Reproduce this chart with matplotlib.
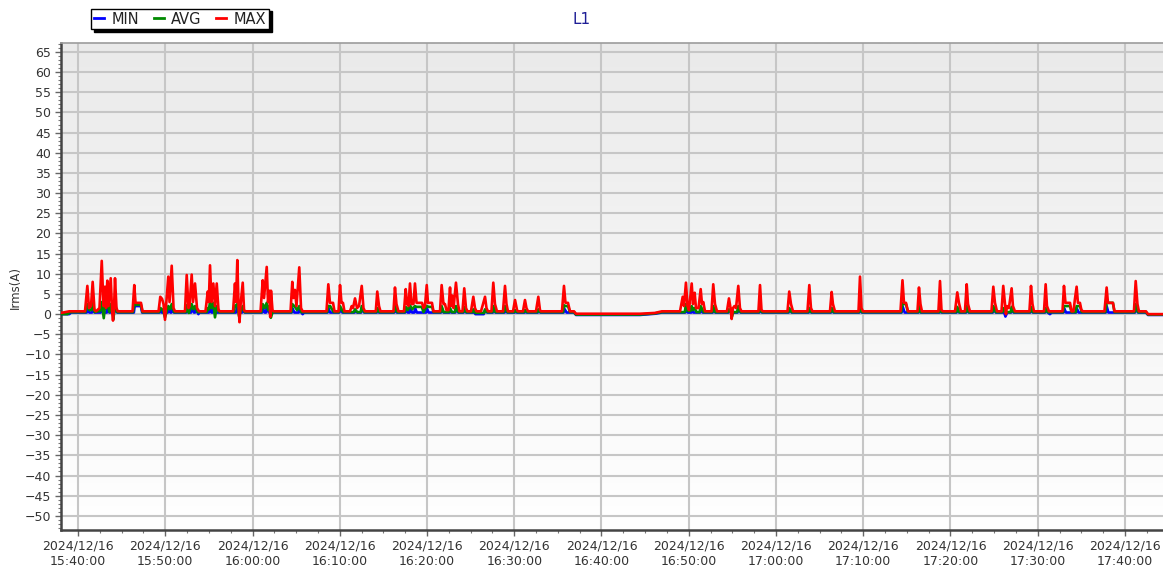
import matplotlib
matplotlib.use("Agg")
import matplotlib.pyplot as plt
import matplotlib.dates as mdates
from matplotlib.colors import LinearSegmentedColormap
from matplotlib.lines import Line2D
from matplotlib.ticker import MultipleLocator, AutoMinorLocator
import numpy as np
import pandas as pd

# readings of phase L1, time given as minutes after 15:40:00
start = pd.Timestamp("2024-12-16 15:40:00")

max_points = [
    (-1.95, 0.3), (-1.0, 0.7),
    (0.80, 0.7), (1.07, 7.0), (1.26, 1.5), (1.49, 2.0), (1.68, 8.0), (1.89, 1.0), (2.06, 0.7),
    (2.46, 1.5), (2.72, 13.2), (2.92, 2.0), (3.09, 6.8), (3.21, 1.5), (3.36, 8.3), (3.50, 2.0),
    (3.75, 8.9), (3.90, 1.0), (4.01, -1.6), (4.13, 1.5), (4.24, 8.9), (4.41, 1.5), (4.55, 0.7),
    (6.25, 0.7), (6.45, 7.2), (6.59, 2.8), (7.22, 2.8), (7.39, 0.7),
    (9.23, 0.7), (9.43, 4.3), (9.63, 3.8), (9.80, 2.5), (9.97, -1.4), (10.09, 2.0), (10.35, 9.3),
    (10.49, 3.0), (10.74, 12.0), (10.95, 1.5), (11.12, 0.7),
    (12.26, 0.7), (12.46, 9.7), (12.66, 1.5), (12.78, 2.0), (13.03, 9.8), (13.18, 3.0), (13.41, 7.6),
    (13.64, 1.5), (13.87, 0.7),
    (14.61, 0.7), (14.87, 5.6), (14.99, 3.0), (15.13, 12.1), (15.30, 3.0), (15.51, 7.6), (15.70, 2.0),
    (15.90, 7.6), (16.10, 1.0), (16.28, 0.7),
    (17.77, 0.7), (17.99, 7.6), (18.11, 3.0), (18.26, 13.4), (18.40, 2.0), (18.51, -2.0), (18.62, 2.0),
    (18.88, 7.8), (19.03, 1.0), (19.14, 0.7),
    (20.92, 0.7), (21.17, 8.4), (21.32, 4.0), (21.63, 11.7), (21.78, 3.0), (21.93, 5.8), (22.03, -0.7),
    (22.12, 5.8), (22.29, 1.0), (22.41, 0.7),
    (24.36, 0.7), (24.56, 8.0), (24.70, 4.0), (24.87, 6.0), (25.04, 2.0), (25.36, 11.6), (25.56, 1.5),
    (25.75, 0.7),
    (28.48, 0.7), (28.69, 7.4), (28.88, 2.8), (29.23, 2.8), (29.40, 0.7),
    (29.86, 0.7), (30.03, 7.2), (30.20, 2.8), (30.37, 2.8), (30.54, 0.7),
    (31.17, 0.7), (31.37, 2.0), (31.52, 1.5), (31.75, 3.9), (31.98, 1.5), (32.21, 2.0), (32.52, 7.0),
    (32.72, 1.5), (32.89, 0.7),
    (34.13, 0.7), (34.30, 5.6), (34.50, 2.0), (34.67, 0.7),
    (36.16, 0.7), (36.33, 6.6), (36.50, 2.5), (36.73, 0.7),
    (37.36, 0.7), (37.56, 6.2), (37.71, 2.5), (37.88, 2.0), (38.05, 7.6), (38.22, 2.5), (38.45, 2.5),
    (38.62, 7.6), (38.80, 2.8), (39.43, 2.8), (39.60, 1.5), (39.77, 2.0), (39.97, 7.2), (40.11, 2.8),
    (40.57, 2.8), (40.74, 0.7),
    (41.49, 0.7), (41.68, 7.2), (41.89, 2.5), (42.06, 2.5), (42.23, 1.0), (42.46, 1.0), (42.64, 6.6),
    (42.75, 2.0), (42.90, 4.6), (43.04, 1.5), (43.32, 7.8), (43.55, 2.5), (43.72, 0.7),
    (44.07, 0.7), (44.27, 6.4), (44.47, 1.5), (44.64, 0.7),
    (45.04, 0.7), (45.31, 4.3), (45.50, 1.5), (45.67, 0.7),
    (46.19, 0.7), (46.42, 2.5), (46.65, 4.3), (46.82, 1.5), (46.99, 0.7),
    (47.39, 0.7), (47.60, 7.8), (47.79, 2.5), (48.02, 0.7),
    (48.71, 0.7), (48.94, 7.0), (49.11, 2.5), (49.28, 0.7),
    (49.86, 0.7), (50.09, 3.5), (50.32, 1.0), (50.43, 0.7),
    (51.00, 0.7), (51.23, 3.5), (51.40, 1.5), (51.58, 0.7),
    (52.49, 0.7), (52.76, 4.3), (52.95, 1.0), (53.07, 0.7),
    (55.47, 0.7), (55.70, 7.0), (55.87, 2.8), (56.16, 2.8), (56.39, 0.7),
    (56.85, 0.7), (57.08, 0.1), (64.41, 0.1), (66.13, 0.3), (66.93, 0.7),
    (69.00, 0.7), (69.31, 4.3), (69.46, 2.0), (69.68, 7.8), (69.86, 2.0), (70.03, 1.0), (70.34, 7.6),
    (70.49, 2.5), (70.68, 5.3), (70.83, 1.5), (71.12, 1.5), (71.37, 6.2), (71.52, 2.5), (71.67, 3.0),
    (71.86, 0.7),
    (72.61, 0.7), (72.81, 7.4), (73.01, 2.5), (73.24, 0.7),
    (74.38, 0.7), (74.61, 3.9), (74.79, 1.5), (74.92, -1.2), (75.07, 1.5), (75.24, 2.0), (75.42, 1.5),
    (75.68, 7.0), (75.87, 1.5), (76.05, 0.7),
    (77.99, 0.7), (78.17, 7.2), (78.34, 1.0), (78.51, 0.7),
    (81.32, 0.7), (81.52, 5.6), (81.72, 2.5), (81.95, 0.7),
    (83.61, 0.7), (83.82, 7.2), (84.01, 1.5), (84.18, 0.7),
    (86.19, 0.7), (86.38, 5.5), (86.53, 2.5), (86.76, 0.7),
    (89.46, 0.7), (89.63, 9.3), (89.80, 1.5), (89.97, 0.7),
    (94.27, 0.7), (94.50, 8.4), (94.67, 2.8), (94.90, 2.8), (95.13, 0.7),
    (96.22, 0.7), (96.39, 6.6), (96.56, 2.5), (96.73, 0.7),
    (98.62, 0.7), (98.80, 8.2), (98.97, 1.0), (99.14, 0.7),
    (100.52, 0.7), (100.78, 5.4), (100.97, 2.8), (101.20, 0.7),
    (101.66, 0.7), (101.86, 7.4), (102.01, 2.5), (102.23, 0.7),
    (104.70, 0.7), (104.91, 6.8), (105.10, 2.8), (105.33, 0.7),
    (105.85, 0.7), (106.05, 7.0), (106.25, 2.5), (106.36, 0.0), (106.48, 2.0), (106.70, 1.5),
    (107.01, 6.4), (107.16, 2.0), (107.39, 0.7),
    (109.05, 0.7), (109.23, 7.0), (109.40, 2.5), (109.57, 0.7),
    (110.72, 0.7), (110.91, 7.4), (111.06, 2.0), (111.29, 0.7),
    (112.84, 0.7), (113.01, 7.0), (113.18, 2.8), (113.70, 2.8), (113.87, 0.7),
    (114.10, 0.7), (114.27, 3.8), (114.46, 6.8), (114.61, 2.8), (114.84, 2.8), (115.01, 1.0),
    (115.19, 0.7),
    (117.65, 0.7), (117.90, 6.6), (118.05, 2.8), (118.62, 2.8), (118.80, 0.7),
    (121.03, 0.7), (121.23, 8.2), (121.43, 2.5), (121.60, 0.7),
    (122.41, 0.7), (122.64, 0.0), (124.60, 0.0),
]

avg_points = [
    (-1.95, 0.0), (-1.2, 0.0), (-0.9, 0.5),
    (0.85, 0.5), (1.07, 2.5), (1.3, 1.0), (1.55, 1.0), (1.68, 2.8), (1.9, 0.5), (2.5, 0.8), (2.72, 3.0),
    (2.95, -1.0), (3.1, 2.0), (3.36, 2.8), (3.6, 0.5), (3.75, 2.5), (3.95, 1.0), (4.05, -1.3),
    (4.24, 2.5), (4.5, 0.5),
    (6.3, 0.5), (6.45, 2.5), (6.6, 2.3), (7.22, 2.3), (7.39, 0.5),
    (9.3, 0.5), (9.45, 1.5), (9.75, 1.0), (9.97, -0.8), (10.2, 1.0), (10.35, 2.0), (10.55, 1.2),
    (10.74, 2.5), (11.0, 0.5),
    (12.35, 0.5), (12.46, 2.2), (12.7, 0.3), (13.03, 2.5), (13.2, 1.2), (13.41, 2.0), (13.7, 0.5),
    (14.75, 0.5), (14.87, 1.5), (15.0, 1.2), (15.13, 3.0), (15.3, 1.5), (15.51, 2.8), (15.7, -0.8),
    (15.9, 2.0), (16.2, 0.5),
    (17.85, 0.5), (17.99, 2.0), (18.26, 2.5), (18.45, -0.5), (18.7, 1.0), (18.88, 2.0), (19.1, 0.5),
    (21.0, 0.5), (21.17, 2.5), (21.4, 1.5), (21.63, 2.8), (21.8, 1.0), (21.93, 2.0), (22.1, -0.9),
    (22.3, 0.5),
    (24.45, 0.5), (24.56, 2.5), (24.87, 1.8), (25.1, 1.0), (25.36, 2.0), (25.6, 0.5),
    (28.55, 0.5), (28.69, 2.0), (28.9, 2.0), (29.3, 0.5), (29.9, 0.5), (30.03, 2.0), (30.4, 0.5),
    (31.6, 0.5), (31.75, 1.2), (32.0, 0.5), (32.4, 0.5), (32.52, 2.0), (32.8, 0.5),
    (34.2, 0.5), (34.3, 1.5), (34.55, 0.5), (36.2, 0.5), (36.33, 2.0), (36.6, 0.5),
    (37.45, 0.5), (37.56, 1.8), (37.8, 1.0), (38.05, 2.2), (38.3, 1.2), (38.62, 2.0), (38.8, 1.8),
    (39.4, 1.8), (39.6, 0.5), (39.97, 2.0), (40.2, 1.8), (40.6, 1.8), (40.74, 0.5),
    (41.55, 0.5), (41.68, 2.0), (41.9, 0.5), (42.5, 0.5), (42.64, 1.5), (42.85, 0.5), (43.2, 0.5),
    (43.32, 2.0), (43.6, 0.5),
    (44.15, 0.5), (44.27, 1.8), (44.5, 0.5), (45.2, 0.5), (45.31, 1.2), (45.55, 0.3), (46.55, 0.3),
    (46.65, 1.2), (46.9, 0.5),
    (47.5, 0.5), (47.6, 2.0), (47.85, 0.5), (48.8, 0.5), (48.94, 2.0), (49.2, 0.5), (50.0, 0.5),
    (50.09, 1.0), (50.35, 0.5), (51.1, 0.5), (51.23, 1.0), (51.45, 0.5), (52.65, 0.5), (52.76, 1.2),
    (53.0, 0.5),
    (55.6, 0.5), (55.7, 2.2), (55.87, 2.0), (56.16, 2.0), (56.39, 0.5), (56.85, 0.5), (57.08, -0.1),
    (64.41, -0.1), (66.13, 0.2), (66.93, 0.5),
    (69.55, 0.5), (69.68, 2.5), (69.9, 0.8), (70.2, 0.8), (70.34, 2.0), (70.5, 1.0), (70.68, 1.5),
    (70.9, 0.5), (71.25, 0.5), (71.37, 2.0), (71.7, 0.5),
    (72.7, 0.5), (72.81, 2.0), (73.05, 0.5), (74.5, 0.5), (74.61, 1.2), (74.85, 0.5), (74.95, -0.6),
    (75.1, 0.5), (75.55, 0.5), (75.68, 2.0), (75.95, 0.5),
    (78.05, 0.5), (78.17, 1.5), (78.4, 0.5), (81.4, 0.5), (81.52, 1.5), (81.8, 0.5), (83.7, 0.5),
    (83.82, 1.5), (84.05, 0.5), (86.25, 0.5), (86.38, 1.5), (86.6, 0.5), (89.5, 0.5), (89.63, 1.8),
    (89.85, 0.5),
    (94.35, 0.5), (94.5, 2.8), (94.67, 2.5), (94.9, 2.5), (95.13, 0.5), (96.3, 0.5), (96.39, 2.0),
    (96.6, 0.5), (98.7, 0.5), (98.8, 1.5), (99.0, 0.5),
    (100.65, 0.5), (100.78, 1.8), (101.0, 0.5), (101.75, 0.5), (101.86, 2.0), (102.1, 0.5),
    (104.8, 0.5), (104.91, 2.0), (105.2, 0.5), (105.95, 0.5), (106.05, 1.5), (106.3, 0.5),
    (106.9, 0.5), (107.01, 1.8), (107.25, 0.5),
    (109.1, 0.5), (109.23, 1.8), (109.45, 0.5), (110.8, 0.5), (110.91, 1.5), (111.15, 0.5),
    (112.9, 0.5), (113.01, 2.0), (113.18, 2.0), (113.7, 2.0), (113.87, 0.5), (114.35, 0.5),
    (114.46, 2.0), (114.61, 2.0), (114.84, 2.0), (115.05, 0.5),
    (117.75, 0.5), (117.9, 2.8), (118.05, 2.8), (118.62, 2.8), (118.8, 0.5), (121.1, 0.5),
    (121.23, 2.5), (121.5, 0.5), (122.41, 0.5), (122.64, -0.1), (124.6, -0.1),
]

min_points = [
    (-1.95, 0.0), (-1.0, 0.0), (-0.8, 0.4),
    (1.0, 0.4), (1.07, 1.2), (1.3, 0.4), (1.6, 0.4), (1.68, 1.5), (1.9, 0.4), (2.6, 0.4), (2.72, 1.8),
    (2.9, 0.4), (3.3, 0.4), (3.36, 1.5), (3.6, 0.4), (3.7, 0.4), (3.75, 1.5), (3.95, 0.4), (4.15, 0.4),
    (4.24, 1.5), (4.5, 0.4),
    (6.4, 0.4), (6.5, 2.0), (7.2, 2.0), (7.35, 0.4),
    (9.35, 0.4), (9.43, 1.2), (9.6, 0.4), (10.3, 0.4), (10.35, 1.5), (10.6, 0.4), (10.7, 0.4),
    (10.74, 1.8), (11.0, 0.4),
    (12.4, 0.4), (12.46, 1.5), (12.65, 0.4), (12.95, 0.4), (13.03, 1.5), (13.3, 0.4), (13.4, 0.4),
    (13.45, 1.2), (13.7, 0.4), (13.8, 0.0), (13.9, 0.4),
    (15.0, 0.4), (15.13, 1.8), (15.3, 0.4), (15.45, 0.4), (15.51, 1.5), (15.7, 0.4),
    (18.1, 0.4), (18.26, 1.8), (18.45, 0.4), (18.8, 0.4), (18.88, 1.5), (19.1, 0.4),
    (21.1, 0.4), (21.17, 1.5), (21.4, 0.4), (21.55, 0.4), (21.63, 1.8), (21.9, 0.4),
    (24.5, 0.4), (24.56, 1.5), (24.8, 0.4), (25.3, 0.4), (25.36, 1.5), (25.6, 0.4), (25.75, 0.0),
    (25.9, 0.4),
    (28.6, 0.4), (28.69, 1.5), (28.9, 0.4), (29.95, 0.4), (30.03, 1.5), (30.3, 0.4), (31.7, 0.4),
    (31.75, 1.0), (32.0, 0.4), (32.45, 0.4), (32.52, 1.5), (32.8, 0.4),
    (34.25, 0.4), (34.3, 1.2), (34.5, 0.4), (36.25, 0.4), (36.33, 1.5), (36.55, 0.4), (37.5, 0.4),
    (37.56, 1.2), (37.8, 0.4), (38.0, 0.4), (38.05, 1.5), (38.3, 0.4), (38.55, 0.4), (38.62, 1.5),
    (38.85, 0.4), (39.9, 0.4), (39.97, 1.5), (40.2, 0.4),
    (41.6, 0.4), (41.68, 1.5), (41.9, 0.4), (42.6, 0.4), (42.64, 1.2), (42.85, 0.4), (43.25, 0.4),
    (43.32, 1.5), (43.6, 0.4), (44.2, 0.4), (44.27, 1.2), (44.5, 0.4), (45.25, 0.4), (45.31, 1.0),
    (45.55, 0.0), (46.5, 0.0), (46.65, 1.0), (46.9, 0.4),
    (47.55, 0.4), (47.6, 1.5), (47.85, 0.4), (48.9, 0.4), (48.94, 1.5), (49.2, 0.4), (50.05, 0.4),
    (50.09, 1.0), (50.3, 0.4), (51.2, 0.4), (51.23, 1.0), (51.45, 0.4), (52.7, 0.4), (52.76, 1.0),
    (53.0, 0.4),
    (55.65, 0.4), (55.7, 1.5), (56.0, 0.4), (56.85, 0.4), (57.08, -0.2), (64.41, -0.2), (66.13, 0.1),
    (66.93, 0.4),
    (69.6, 0.4), (69.68, 1.5), (69.9, 0.4), (70.3, 0.4), (70.34, 1.5), (70.55, 0.4), (71.3, 0.4),
    (71.37, 1.5), (71.6, 0.4), (72.75, 0.4), (72.81, 1.5), (73.05, 0.4), (74.55, 0.4), (74.61, 1.0),
    (74.85, 0.4), (75.6, 0.4), (75.68, 1.5), (75.95, 0.4),
    (78.1, 0.4), (78.17, 1.2), (78.4, 0.4), (81.45, 0.4), (81.52, 1.2), (81.8, 0.4), (83.75, 0.4),
    (83.82, 1.5), (84.05, 0.4), (86.3, 0.4), (86.38, 1.5), (86.6, 0.4), (89.55, 0.4), (89.63, 1.5),
    (89.85, 0.4),
    (94.4, 0.4), (94.5, 2.0), (94.75, 0.4), (96.33, 0.4), (96.39, 1.5), (96.6, 0.4), (98.75, 0.4),
    (98.8, 1.2), (99.0, 0.4), (100.7, 0.4), (100.78, 1.5), (101.0, 0.4), (101.8, 0.4), (101.86, 1.5),
    (102.1, 0.4),
    (104.85, 0.4), (104.91, 1.5), (105.2, 0.4), (106.0, 0.4), (106.05, 1.2), (106.3, -0.6),
    (106.5, 0.4), (106.95, 0.4), (107.01, 1.5), (107.25, 0.4), (109.15, 0.4), (109.23, 1.5),
    (109.45, 0.4), (110.85, 0.4), (110.91, 1.5), (111.15, 0.4), (111.4, 0.0), (111.6, 0.4),
    (112.95, 0.4), (113.01, 1.5), (113.25, 0.4), (114.4, 0.4), (114.46, 1.5), (114.7, 0.4),
    (117.8, 0.4), (117.9, 2.0), (118.1, 0.4), (121.15, 0.4), (121.23, 1.8), (121.5, 0.4),
    (122.41, 0.4), (122.64, -0.2), (124.6, -0.2),
]

x_range = (-1.95, 124.36)   # minutes after 15:40
y_range = (-53.5, 67.2)


def to_series(points):
    t, v = zip(*points)
    return start + pd.to_timedelta(list(t), unit="m"), list(v)


fig = plt.figure(figsize=(11.63, 5.71), dpi=100)
ax = fig.add_axes([61 / 1163, 41 / 571, 1 - 61 / 1163, 487 / 571])

# light grey to white background
bg = LinearSegmentedColormap.from_list("bg", ["#ffffff", "#eaeaea"])
ax.imshow(np.linspace(0, 1, 256).reshape(-1, 1), cmap=bg, origin="lower",
          extent=[0, 1, 0, 1], transform=ax.transAxes, aspect="auto", zorder=-2)

for pts, color, name in [(min_points, "#0000ff", "MIN"),
                         (avg_points, "#008a00", "AVG"),
                         (max_points, "#ff0000", "MAX")]:
    t, v = to_series(pts)
    ax.plot(t, v, color=color, lw=1.9, label=name, zorder=3)

ax.set_xlim(start + pd.Timedelta(minutes=x_range[0]), start + pd.Timedelta(minutes=x_range[1]))
ax.set_ylim(*y_range)

ax.xaxis.set_major_locator(mdates.MinuteLocator(byminute=range(0, 60, 10)))
ax.xaxis.set_major_formatter(mdates.DateFormatter("%Y/%m/%d\n%H:%M:%S"))
ax.xaxis.set_minor_locator(AutoMinorLocator(4))
ax.yaxis.set_major_locator(MultipleLocator(5))
ax.yaxis.set_minor_locator(MultipleLocator(1))

ax.set_axisbelow(True)
ax.grid(True, which="major", color="#c6c6c6", lw=1.5, zorder=0)

ax.tick_params(which="major", length=4, width=1, color="#666", labelsize=9,
               labelcolor="#333", pad=3)
ax.tick_params(which="minor", length=2, width=0.8, color="#777")

ax.spines["right"].set_visible(False)
ax.spines["top"].set_color("#9c9c9c")
ax.spines["top"].set_linewidth(1.2)
for side in ["left", "bottom"]:
    ax.spines[side].set_color("#444")
    ax.spines[side].set_linewidth(1.8)

fig.text(15 / 1163, 0.497, "Irms(A)", rotation=90, ha="center", va="center",
         fontsize=8.5, color="#333")
fig.text(0.5, 1 - 20 / 571, "L1", ha="center", va="center", fontsize=11, color="#1e1e96")

handles = [Line2D([], [], color=c, lw=2) for c in ["#0000ff", "#008a00", "#ff0000"]]
fig.legend(handles, ["MIN", "AVG", "MAX"], loc="center",
           bbox_to_anchor=(180 / 1163, 1 - 19 / 571), ncol=3, fontsize=10.5,
           frameon=True, fancybox=False, edgecolor="black", framealpha=1,
           shadow={"color": "black", "alpha": 1, "ox": 2, "oy": -2},
           handlelength=0.7, handletextpad=0.5, columnspacing=1.0, borderpad=0.2,
           labelcolor="#222")

fig.savefig("out.png", dpi=100)
